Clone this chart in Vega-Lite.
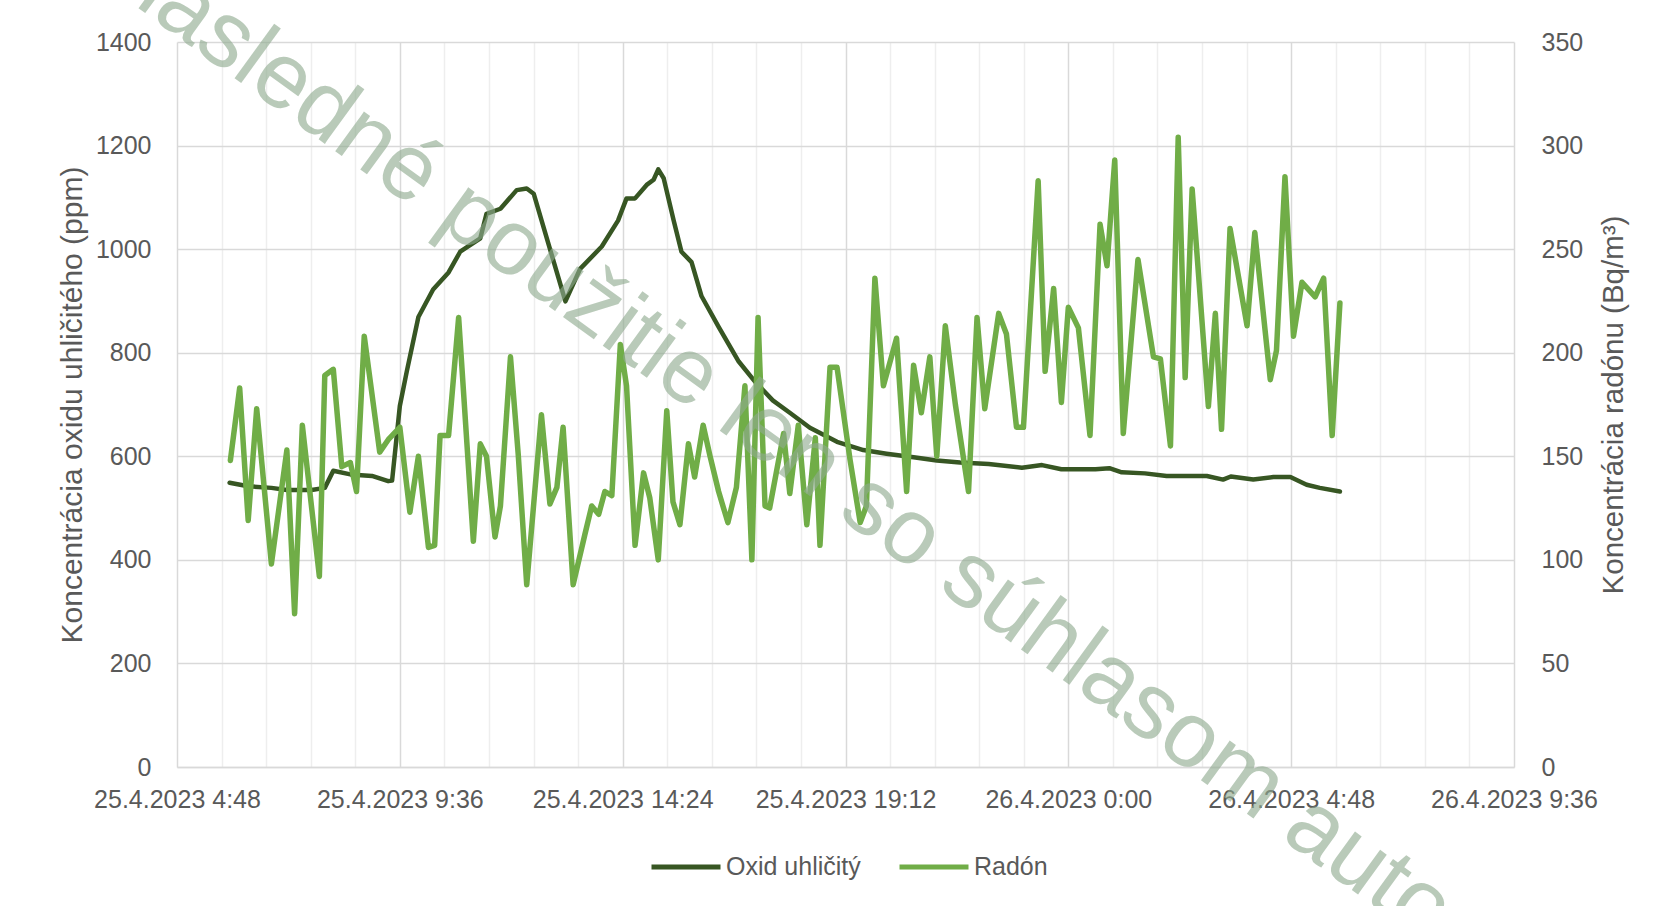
{
  "$schema": "https://vega.github.io/schema/vega-lite/v6.json",
  "width": 1337,
  "height": 725,
  "autosize": {"type": "none"},
  "padding": {"left": 177, "top": 42, "right": 141, "bottom": 139},
  "background": "white",
  "config": {
    "view": {"stroke": null},
    "font": "Liberation Sans",
    "axis": {"labelFont": "Liberation Sans", "titleFont": "Liberation Sans", "labelColor": "#595959", "titleColor": "#595959", "titleFontWeight": "normal", "labelFlush": false, "labelOverlap": false, "labelLimit": 0}
  },
  "datasets": {
    "co2": [
      {"t": "2023-04-25T05:56", "v": 549}, {"t": "2023-04-25T06:20", "v": 542}, {"t": "2023-04-25T06:50", "v": 539},
      {"t": "2023-04-25T07:10", "v": 535}, {"t": "2023-04-25T07:42", "v": 535}, {"t": "2023-04-25T07:59", "v": 539},
      {"t": "2023-04-25T08:10", "v": 572}, {"t": "2023-04-25T08:32", "v": 565}, {"t": "2023-04-25T09:00", "v": 562},
      {"t": "2023-04-25T09:21", "v": 552}, {"t": "2023-04-25T09:26", "v": 553}, {"t": "2023-04-25T09:36", "v": 697},
      {"t": "2023-04-25T09:45", "v": 764}, {"t": "2023-04-25T10:00", "v": 869}, {"t": "2023-04-25T10:19", "v": 922},
      {"t": "2023-04-25T10:39", "v": 955}, {"t": "2023-04-25T10:54", "v": 995}, {"t": "2023-04-25T11:20", "v": 1021},
      {"t": "2023-04-25T11:28", "v": 1068}, {"t": "2023-04-25T11:46", "v": 1078}, {"t": "2023-04-25T12:07", "v": 1114},
      {"t": "2023-04-25T12:20", "v": 1117}, {"t": "2023-04-25T12:29", "v": 1107}, {"t": "2023-04-25T13:10", "v": 899},
      {"t": "2023-04-25T13:29", "v": 962}, {"t": "2023-04-25T13:57", "v": 1005}, {"t": "2023-04-25T14:18", "v": 1055},
      {"t": "2023-04-25T14:29", "v": 1098}, {"t": "2023-04-25T14:40", "v": 1098}, {"t": "2023-04-25T14:55", "v": 1124},
      {"t": "2023-04-25T15:04", "v": 1134}, {"t": "2023-04-25T15:10", "v": 1154}, {"t": "2023-04-25T15:17", "v": 1137},
      {"t": "2023-04-25T15:30", "v": 1055}, {"t": "2023-04-25T15:40", "v": 995}, {"t": "2023-04-25T15:53", "v": 975},
      {"t": "2023-04-25T16:06", "v": 909}, {"t": "2023-04-25T16:28", "v": 850}, {"t": "2023-04-25T16:54", "v": 783},
      {"t": "2023-04-25T17:15", "v": 744}, {"t": "2023-04-25T17:38", "v": 708}, {"t": "2023-04-25T18:00", "v": 684},
      {"t": "2023-04-25T18:26", "v": 655}, {"t": "2023-04-25T19:01", "v": 628}, {"t": "2023-04-25T19:35", "v": 612},
      {"t": "2023-04-25T20:05", "v": 605}, {"t": "2023-04-25T20:40", "v": 598}, {"t": "2023-04-25T21:10", "v": 592},
      {"t": "2023-04-25T21:40", "v": 588}, {"t": "2023-04-25T22:17", "v": 585}, {"t": "2023-04-25T23:00", "v": 578},
      {"t": "2023-04-25T23:26", "v": 583}, {"t": "2023-04-25T23:51", "v": 575}, {"t": "2023-04-26T00:35", "v": 575},
      {"t": "2023-04-26T00:53", "v": 577}, {"t": "2023-04-26T01:09", "v": 569}, {"t": "2023-04-26T01:39", "v": 567},
      {"t": "2023-04-26T02:07", "v": 562}, {"t": "2023-04-26T02:59", "v": 562}, {"t": "2023-04-26T03:20", "v": 555},
      {"t": "2023-04-26T03:30", "v": 561}, {"t": "2023-04-26T03:59", "v": 555}, {"t": "2023-04-26T04:25", "v": 560},
      {"t": "2023-04-26T04:47", "v": 560}, {"t": "2023-04-26T05:08", "v": 545}, {"t": "2023-04-26T05:25", "v": 539},
      {"t": "2023-04-26T05:51", "v": 532}
    ],
    "radon": [
      {"t": "2023-04-25T05:57", "v": 148}, {"t": "2023-04-25T06:09", "v": 183}, {"t": "2023-04-25T06:20", "v": 119},
      {"t": "2023-04-25T06:31", "v": 173}, {"t": "2023-04-25T06:50", "v": 98}, {"t": "2023-04-25T07:10", "v": 153},
      {"t": "2023-04-25T07:20", "v": 74}, {"t": "2023-04-25T07:30", "v": 165}, {"t": "2023-04-25T07:52", "v": 92},
      {"t": "2023-04-25T07:59", "v": 189}, {"t": "2023-04-25T08:10", "v": 192}, {"t": "2023-04-25T08:21", "v": 145},
      {"t": "2023-04-25T08:32", "v": 147}, {"t": "2023-04-25T08:40", "v": 133}, {"t": "2023-04-25T08:50", "v": 208},
      {"t": "2023-04-25T09:10", "v": 152}, {"t": "2023-04-25T09:21", "v": 158}, {"t": "2023-04-25T09:36", "v": 164},
      {"t": "2023-04-25T09:49", "v": 123}, {"t": "2023-04-25T10:00", "v": 150}, {"t": "2023-04-25T10:13", "v": 106},
      {"t": "2023-04-25T10:21", "v": 107}, {"t": "2023-04-25T10:28", "v": 160}, {"t": "2023-04-25T10:39", "v": 160},
      {"t": "2023-04-25T10:52", "v": 217}, {"t": "2023-04-25T11:11", "v": 109}, {"t": "2023-04-25T11:20", "v": 156},
      {"t": "2023-04-25T11:28", "v": 150}, {"t": "2023-04-25T11:39", "v": 111}, {"t": "2023-04-25T11:46", "v": 126},
      {"t": "2023-04-25T11:59", "v": 198}, {"t": "2023-04-25T12:09", "v": 151}, {"t": "2023-04-25T12:20", "v": 88},
      {"t": "2023-04-25T12:39", "v": 170}, {"t": "2023-04-25T12:50", "v": 127}, {"t": "2023-04-25T12:59", "v": 135},
      {"t": "2023-04-25T13:07", "v": 164}, {"t": "2023-04-25T13:20", "v": 88}, {"t": "2023-04-25T13:35", "v": 112},
      {"t": "2023-04-25T13:44", "v": 126}, {"t": "2023-04-25T13:53", "v": 122}, {"t": "2023-04-25T14:01", "v": 133},
      {"t": "2023-04-25T14:10", "v": 131}, {"t": "2023-04-25T14:21", "v": 204}, {"t": "2023-04-25T14:29", "v": 184},
      {"t": "2023-04-25T14:40", "v": 107}, {"t": "2023-04-25T14:51", "v": 142}, {"t": "2023-04-25T14:59", "v": 130},
      {"t": "2023-04-25T15:10", "v": 100}, {"t": "2023-04-25T15:21", "v": 172}, {"t": "2023-04-25T15:29", "v": 128},
      {"t": "2023-04-25T15:38", "v": 117}, {"t": "2023-04-25T15:49", "v": 156}, {"t": "2023-04-25T15:57", "v": 140},
      {"t": "2023-04-25T16:08", "v": 165}, {"t": "2023-04-25T16:17", "v": 150}, {"t": "2023-04-25T16:28", "v": 133},
      {"t": "2023-04-25T16:40", "v": 118}, {"t": "2023-04-25T16:51", "v": 135}, {"t": "2023-04-25T17:02", "v": 184},
      {"t": "2023-04-25T17:11", "v": 100}, {"t": "2023-04-25T17:19", "v": 217}, {"t": "2023-04-25T17:28", "v": 126},
      {"t": "2023-04-25T17:34", "v": 125}, {"t": "2023-04-25T17:52", "v": 161}, {"t": "2023-04-25T18:00", "v": 132},
      {"t": "2023-04-25T18:11", "v": 165}, {"t": "2023-04-25T18:22", "v": 117}, {"t": "2023-04-25T18:33", "v": 159},
      {"t": "2023-04-25T18:39", "v": 107}, {"t": "2023-04-25T18:52", "v": 193}, {"t": "2023-04-25T19:01", "v": 193},
      {"t": "2023-04-25T19:18", "v": 148}, {"t": "2023-04-25T19:31", "v": 118}, {"t": "2023-04-25T19:39", "v": 126},
      {"t": "2023-04-25T19:50", "v": 236}, {"t": "2023-04-25T20:01", "v": 184}, {"t": "2023-04-25T20:18", "v": 207},
      {"t": "2023-04-25T20:31", "v": 133}, {"t": "2023-04-25T20:40", "v": 194}, {"t": "2023-04-25T20:50", "v": 171},
      {"t": "2023-04-25T21:01", "v": 198}, {"t": "2023-04-25T21:10", "v": 150}, {"t": "2023-04-25T21:21", "v": 213},
      {"t": "2023-04-25T21:34", "v": 175}, {"t": "2023-04-25T21:51", "v": 133}, {"t": "2023-04-25T22:02", "v": 217},
      {"t": "2023-04-25T22:12", "v": 173}, {"t": "2023-04-25T22:30", "v": 219}, {"t": "2023-04-25T22:40", "v": 209},
      {"t": "2023-04-25T22:53", "v": 164}, {"t": "2023-04-25T23:02", "v": 164}, {"t": "2023-04-25T23:21", "v": 283},
      {"t": "2023-04-25T23:30", "v": 191}, {"t": "2023-04-25T23:41", "v": 231}, {"t": "2023-04-25T23:51", "v": 176},
      {"t": "2023-04-26T00:00", "v": 222}, {"t": "2023-04-26T00:13", "v": 212}, {"t": "2023-04-26T00:28", "v": 160},
      {"t": "2023-04-26T00:41", "v": 262}, {"t": "2023-04-26T00:50", "v": 242}, {"t": "2023-04-26T01:00", "v": 293},
      {"t": "2023-04-26T01:11", "v": 161}, {"t": "2023-04-26T01:30", "v": 245}, {"t": "2023-04-26T01:50", "v": 198},
      {"t": "2023-04-26T01:59", "v": 197}, {"t": "2023-04-26T02:12", "v": 155}, {"t": "2023-04-26T02:22", "v": 304},
      {"t": "2023-04-26T02:31", "v": 188}, {"t": "2023-04-26T02:40", "v": 279}, {"t": "2023-04-26T03:01", "v": 174},
      {"t": "2023-04-26T03:10", "v": 219}, {"t": "2023-04-26T03:18", "v": 163}, {"t": "2023-04-26T03:29", "v": 260},
      {"t": "2023-04-26T03:51", "v": 213}, {"t": "2023-04-26T04:01", "v": 258}, {"t": "2023-04-26T04:21", "v": 187},
      {"t": "2023-04-26T04:29", "v": 201}, {"t": "2023-04-26T04:40", "v": 285}, {"t": "2023-04-26T04:51", "v": 208},
      {"t": "2023-04-26T05:02", "v": 234}, {"t": "2023-04-26T05:19", "v": 227}, {"t": "2023-04-26T05:30", "v": 236},
      {"t": "2023-04-26T05:41", "v": 160}, {"t": "2023-04-26T05:51", "v": 224}
    ],
    "wm": [
      {"t": "2023-04-25T18:35", "v": 580, "txt": "následné použitie len so súhlasom autora"}
    ]
  },
  "layer": [
    {
      "data": {"name": "co2"},
      "mark": {"type": "line", "strokeWidth": 4.5, "strokeJoin": "round", "strokeCap": "round"},
      "encoding": {
        "x": {
          "field": "t", "type": "temporal",
          "scale": {"domain": [{"year": 2023, "month": 4, "date": 25, "hours": 4, "minutes": 48}, {"year": 2023, "month": 4, "date": 26, "hours": 9, "minutes": 36}], "nice": false},
          "axis": {
            "orient": "bottom", "title": null, "labels": false, "ticks": false, "domain": false,
            "grid": true, "gridColor": "#eeeeee", "gridWidth": 1.5,
            "values": [
              {"year": 2023, "month": 4, "date": 25, "hours": 5, "minutes": 45, "seconds": 36},
              {"year": 2023, "month": 4, "date": 25, "hours": 6, "minutes": 43, "seconds": 12},
              {"year": 2023, "month": 4, "date": 25, "hours": 7, "minutes": 40, "seconds": 48},
              {"year": 2023, "month": 4, "date": 25, "hours": 8, "minutes": 38, "seconds": 24},
              {"year": 2023, "month": 4, "date": 25, "hours": 10, "minutes": 33, "seconds": 36},
              {"year": 2023, "month": 4, "date": 25, "hours": 11, "minutes": 31, "seconds": 12},
              {"year": 2023, "month": 4, "date": 25, "hours": 12, "minutes": 28, "seconds": 48},
              {"year": 2023, "month": 4, "date": 25, "hours": 13, "minutes": 26, "seconds": 24},
              {"year": 2023, "month": 4, "date": 25, "hours": 15, "minutes": 21, "seconds": 36},
              {"year": 2023, "month": 4, "date": 25, "hours": 16, "minutes": 19, "seconds": 12},
              {"year": 2023, "month": 4, "date": 25, "hours": 17, "minutes": 16, "seconds": 48},
              {"year": 2023, "month": 4, "date": 25, "hours": 18, "minutes": 14, "seconds": 24},
              {"year": 2023, "month": 4, "date": 25, "hours": 20, "minutes": 9, "seconds": 36},
              {"year": 2023, "month": 4, "date": 25, "hours": 21, "minutes": 7, "seconds": 12},
              {"year": 2023, "month": 4, "date": 25, "hours": 22, "minutes": 4, "seconds": 48},
              {"year": 2023, "month": 4, "date": 25, "hours": 23, "minutes": 2, "seconds": 24},
              {"year": 2023, "month": 4, "date": 26, "hours": 0, "minutes": 57, "seconds": 36},
              {"year": 2023, "month": 4, "date": 26, "hours": 1, "minutes": 55, "seconds": 12},
              {"year": 2023, "month": 4, "date": 26, "hours": 2, "minutes": 52, "seconds": 48},
              {"year": 2023, "month": 4, "date": 26, "hours": 3, "minutes": 50, "seconds": 24},
              {"year": 2023, "month": 4, "date": 26, "hours": 5, "minutes": 45, "seconds": 36},
              {"year": 2023, "month": 4, "date": 26, "hours": 6, "minutes": 43, "seconds": 12},
              {"year": 2023, "month": 4, "date": 26, "hours": 7, "minutes": 40, "seconds": 48},
              {"year": 2023, "month": 4, "date": 26, "hours": 8, "minutes": 38, "seconds": 24}
            ]
          }
        },
        "y": {
          "field": "v", "type": "quantitative",
          "scale": {"domain": [0, 1400], "nice": false},
          "axis": {
            "orient": "left", "title": "Koncentrácia oxidu uhličitého (ppm)", "format": "d",
            "values": [0, 200, 400, 600, 800, 1000, 1200, 1400],
            "labelFontSize": 25, "labelPadding": 26, "titleFontSize": 30, "titlePadding": 8,
            "ticks": false, "domain": false, "grid": true, "gridColor": "#d9d9d9", "gridWidth": 1.5
          }
        },
        "color": {
          "datum": "Oxid uhličitý", "type": "nominal",
          "scale": {"domain": ["Oxid uhličitý", "Radón"], "range": ["#375623", "#70ad47"]},
          "legend": {
            "orient": "none", "legendX": 472, "legendY": 788, "direction": "horizontal", "title": null,
            "symbolType": "stroke", "symbolSize": 4761, "symbolStrokeWidth": 5,
            "labelFontSize": 25, "labelColor": "#595959", "labelFont": "Liberation Sans",
            "labelOffset": 3, "columnPadding": 28
          }
        }
      }
    },
    {
      "data": {"name": "radon"},
      "mark": {"type": "line", "strokeWidth": 5.5, "strokeJoin": "round", "strokeCap": "round"},
      "encoding": {
        "x": {
          "field": "t", "type": "temporal",
          "scale": {"domain": [{"year": 2023, "month": 4, "date": 25, "hours": 4, "minutes": 48}, {"year": 2023, "month": 4, "date": 26, "hours": 9, "minutes": 36}], "nice": false},
          "axis": {
            "orient": "bottom", "title": null, "format": "%-d.%-m.%Y %-H:%M",
            "labelFontSize": 25, "labelPadding": 20, "ticks": false, "labelLimit": 0,
            "domain": true, "domainColor": "#d9d9d9", "domainWidth": 1.5,
            "grid": true, "gridColor": "#d9d9d9", "gridWidth": 1.5,
            "values": [
              {"year": 2023, "month": 4, "date": 25, "hours": 4, "minutes": 48},
              {"year": 2023, "month": 4, "date": 25, "hours": 9, "minutes": 36},
              {"year": 2023, "month": 4, "date": 25, "hours": 14, "minutes": 24},
              {"year": 2023, "month": 4, "date": 25, "hours": 19, "minutes": 12},
              {"year": 2023, "month": 4, "date": 26, "hours": 0, "minutes": 0},
              {"year": 2023, "month": 4, "date": 26, "hours": 4, "minutes": 48},
              {"year": 2023, "month": 4, "date": 26, "hours": 9, "minutes": 36}
            ]
          }
        },
        "y": {
          "field": "v", "type": "quantitative",
          "scale": {"domain": [0, 350], "nice": false},
          "axis": {
            "orient": "right", "title": "Koncentrácia radónu (Bq/m³)", "format": "d",
            "values": [0, 50, 100, 150, 200, 250, 300, 350],
            "labelFontSize": 25, "labelPadding": 27, "titleFontSize": 29.5, "titlePadding": 17,
            "titleAngle": 270, "titleBaseline": "top",
            "ticks": false, "domain": false, "grid": false
          }
        },
        "color": {"datum": "Radón", "type": "nominal"}
      }
    },
    {
      "data": {"name": "wm"},
      "mark": {"type": "text", "angle": 36, "fontSize": 93, "font": "Liberation Sans", "align": "center", "baseline": "middle", "fill": "#8fab8f", "opacity": 0.62},
      "encoding": {
        "x": {
          "field": "t", "type": "temporal",
          "scale": {"domain": [{"year": 2023, "month": 4, "date": 25, "hours": 4, "minutes": 48}, {"year": 2023, "month": 4, "date": 26, "hours": 9, "minutes": 36}], "nice": false},
          "axis": null
        },
        "y": {"field": "v", "type": "quantitative", "scale": {"domain": [0, 1400], "nice": false}, "axis": null},
        "text": {"field": "txt"}
      }
    }
  ],
  "resolve": {"scale": {"y": "independent"}, "axis": {"x": "independent"}}
}
